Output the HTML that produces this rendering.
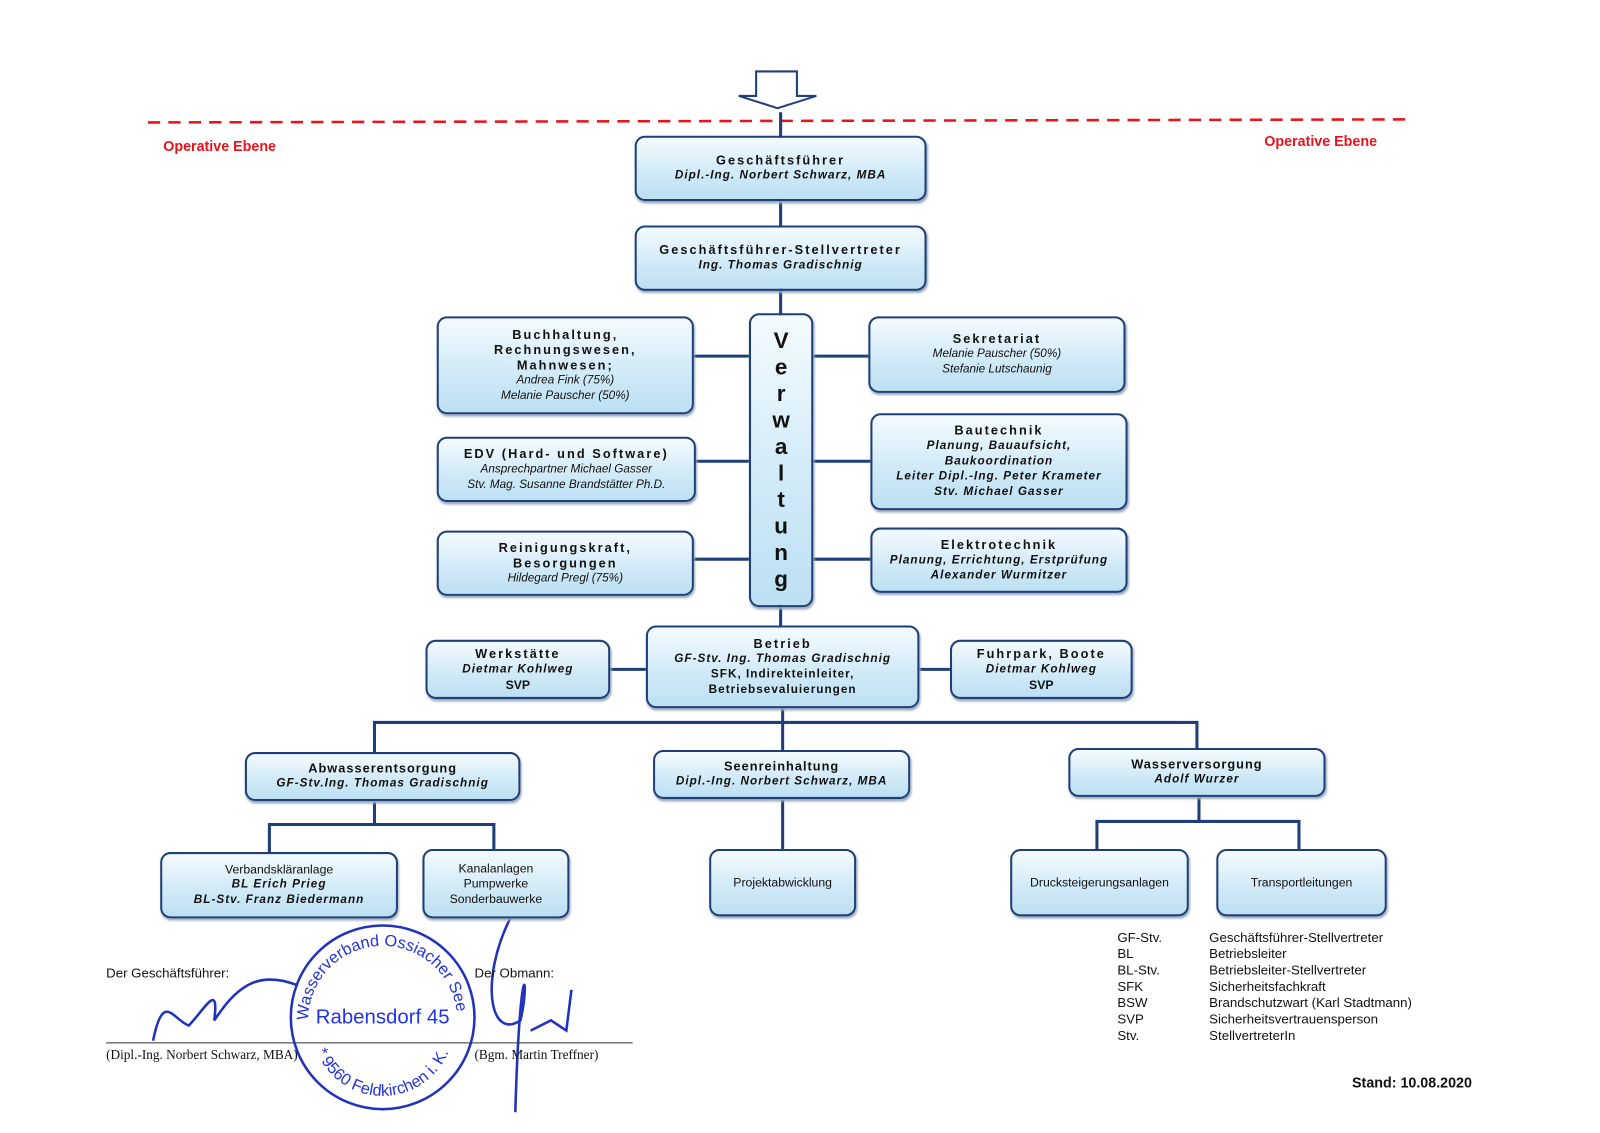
<!DOCTYPE html>
<html><head><meta charset="utf-8"><style>
body{margin:0;width:1600px;height:1132px;background:#fff;position:relative;overflow:hidden;font-family:"Liberation Sans",sans-serif;}
#w{position:absolute;left:0;top:0;width:1568px;height:1110px;transform:scale(1.0204);transform-origin:0 0;}
.b{position:absolute;box-sizing:border-box;border:2.5px solid #1f3f7a;border-radius:10px;background:linear-gradient(#f4fbff,#cfe9f7 60%,#bde0f3);text-align:center;color:#111;font-size:12px;line-height:15px;display:flex;flex-direction:column;justify-content:center;box-shadow:1px 2px 2px #9ab;}
.t{font-weight:bold;letter-spacing:2px;font-size:12.5px}
.i{font-style:italic;letter-spacing:1px;font-weight:bold;font-size:11.5px}
.n{font-style:italic;font-size:11.5px}
.a{position:absolute;font-size:13px;color:#111}
</style></head><body><div id="w">
<svg width="1568" height="1110" style="position:absolute;left:0;top:0">
<line x1="145" y1="120" x2="1380" y2="117" stroke="#e8131b" stroke-width="2.5" stroke-dasharray="12,8"/>
<polygon points="741,70 781,70 781,94 800,94 762,106 724,94 741,94" fill="#fff" stroke="#1f3f7a" stroke-width="2"/>
<g stroke="#1f3f7a" stroke-width="3" fill="none">
<line x1="765" y1="110" x2="765" y2="613"/>
<line x1="680" y1="349" x2="734" y2="349"/><line x1="682" y1="452" x2="734" y2="452"/><line x1="680" y1="548" x2="734" y2="548"/>
<line x1="797" y1="349" x2="851" y2="349"/><line x1="797" y1="452" x2="853" y2="452"/><line x1="797" y1="548" x2="853" y2="548"/>
<line x1="598" y1="656" x2="633" y2="656"/><line x1="901" y1="656" x2="931" y2="656"/>
<line x1="767" y1="694" x2="767" y2="735"/>
<polyline points="367,737 367,708 1173,708 1173,733"/>
<line x1="367" y1="785" x2="367" y2="808"/><polyline points="264,835 264,808 484,808 484,832"/>
<line x1="767" y1="783" x2="767" y2="832"/>
<line x1="1175" y1="781" x2="1175" y2="805"/><polyline points="1075,832 1075,805 1273,805 1273,832"/>
<line x1="104" y1="1022" x2="620" y2="1022" stroke="#333" stroke-width="1"/>
</g>
<g fill="none" stroke="#2233bb" stroke-width="2.5">
<circle cx="375" cy="997" r="90"/>
<path d="M150,1020 C160,970 170,1000 185,1005 C200,990 215,960 210,1000 C230,970 250,950 290,965"/>
<path d="M500,900 C470,960 480,1020 510,1000 C520,960 510,920 505,1090"/>
<path d="M520,1010 L540,1000 L555,1010 L560,970"/>
</g>
<text x="375" y="1003" fill="#2233ee" font-size="20" text-anchor="middle" font-family="Liberation Sans">Rabensdorf 45</text>
<path id="arc" d="M302,1000 A73,73 0 0,1 448,1000" fill="none"/>
<text fill="#2233dd" font-size="16" font-family="Liberation Sans"><textPath href="#arc">Wasserverband Ossiacher See</textPath></text>
<path id="arc2" d="M310,1030 A70,70 0 0,0 440,1030" fill="none"/>
<text fill="#2233dd" font-size="16" font-family="Liberation Sans"><textPath href="#arc2">* 9560 Feldkirchen i. K. *</textPath></text>
</svg>
<div class="a" style="left:160px;top:135px;color:#e8131b;font-weight:bold;font-size:14px">Operative Ebene</div>
<div class="a" style="left:1239px;top:130px;color:#e8131b;font-weight:bold;font-size:14px">Operative Ebene</div>

<div class="b" style="left:622px;top:133px;width:286px;height:64px"><div class="t">Geschäftsführer</div><div class="i">Dipl.-Ing. Norbert Schwarz, MBA</div></div>
<div class="b" style="left:622px;top:221px;width:286px;height:64px"><div class="t">Geschäftsführer-Stellvertreter</div><div class="i">Ing. Thomas Gradischnig</div></div>
<div class="b" style="left:734px;top:307px;width:63px;height:288px;font-weight:bold;font-size:22px;line-height:26px">V<br>e<br>r<br>w<br>a<br>l<br>t<br>u<br>n<br>g</div>
<div class="b" style="left:428px;top:310px;width:252px;height:96px"><div class="t">Buchhaltung,<br>Rechnungswesen,<br>Mahnwesen;</div><div class="n">Andrea Fink (75%)<br>Melanie Pauscher (50%)</div></div>
<div class="b" style="left:428px;top:428px;width:254px;height:64px"><div class="t">EDV (Hard- und Software)</div><div class="n">Ansprechpartner Michael Gasser<br>Stv. Mag. Susanne Brandstätter Ph.D.</div></div>
<div class="b" style="left:428px;top:520px;width:252px;height:64px"><div class="t">Reinigungskraft,<br>Besorgungen</div><div class="n">Hildegard Pregl (75%)</div></div>
<div class="b" style="left:851px;top:310px;width:252px;height:75px"><div class="t">Sekretariat</div><div class="n">Melanie Pauscher (50%)<br>Stefanie Lutschaunig</div></div>
<div class="b" style="left:853px;top:405px;width:252px;height:95px"><div class="t">Bautechnik</div><div class="i">Planung, Bauaufsicht,<br>Baukoordination<br>Leiter Dipl.-Ing. Peter Krameter<br>Stv. Michael Gasser</div></div>
<div class="b" style="left:853px;top:517px;width:252px;height:64px"><div class="t">Elektrotechnik</div><div class="i">Planung, Errichtung, Erstprüfung<br>Alexander Wurmitzer</div></div>
<div class="b" style="left:633px;top:613px;width:268px;height:81px"><div class="t">Betrieb</div><div class="i">GF-Stv. Ing. Thomas Gradischnig</div><div style="letter-spacing:1px;font-weight:bold;font-size:11.5px">SFK, Indirekteinleiter,<br>Betriebsevaluierungen</div></div>
<div class="b" style="left:417px;top:627px;width:181px;height:58px"><div class="t">Werkstätte</div><div class="i">Dietmar Kohlweg</div><div style="font-weight:bold">SVP</div></div>
<div class="b" style="left:931px;top:627px;width:179px;height:58px"><div class="t">Fuhrpark, Boote</div><div class="i">Dietmar Kohlweg</div><div style="font-weight:bold">SVP</div></div>
<div class="b" style="left:240px;top:737px;width:270px;height:48px"><div class="t" style="letter-spacing:1px">Abwasserentsorgung</div><div class="i">GF-Stv.Ing. Thomas Gradischnig</div></div>
<div class="b" style="left:640px;top:735px;width:252px;height:48px"><div class="t" style="letter-spacing:1px">Seenreinhaltung</div><div class="i">Dipl.-Ing. Norbert Schwarz, MBA</div></div>
<div class="b" style="left:1047px;top:733px;width:252px;height:48px"><div class="t" style="letter-spacing:1px">Wasserversorgung</div><div class="i">Adolf Wurzer</div></div>
<div class="b" style="left:157px;top:835px;width:233px;height:65px"><div>Verbandskläranlage</div><div class="i">BL Erich Prieg<br>BL-Stv. Franz Biedermann</div></div>
<div class="b" style="left:414px;top:832px;width:144px;height:68px"><div>Kanalanlagen<br>Pumpwerke<br>Sonderbauwerke</div></div>
<div class="b" style="left:695px;top:832px;width:144px;height:66px">Projektabwicklung</div>
<div class="b" style="left:990px;top:832px;width:175px;height:66px">Drucksteigerungsanlagen</div>
<div class="b" style="left:1192px;top:832px;width:167px;height:66px">Transportleitungen</div>

<div class="a" style="left:1095px;top:911px;line-height:16px">GF-Stv.<br>BL<br>BL-Stv.<br>SFK<br>BSW<br>SVP<br>Stv.</div>
<div class="a" style="left:1185px;top:911px;line-height:16px">Geschäftsführer-Stellvertreter<br>Betriebsleiter<br>Betriebsleiter-Stellvertreter<br>Sicherheitsfachkraft<br>Brandschutzwart (Karl Stadtmann)<br>Sicherheitsvertrauensperson<br>StellvertreterIn</div>
<div class="a" style="left:1325px;top:1053px;font-weight:bold;font-size:14px">Stand: 10.08.2020</div>
<div class="a" style="left:104px;top:946px">Der Geschäftsführer:</div>
<div class="a" style="left:465px;top:946px">Der Obmann:</div>
<div class="a" style="left:104px;top:1026px;font-family:'Liberation Serif',serif">(Dipl.-Ing. Norbert Schwarz, MBA)</div>
<div class="a" style="left:465px;top:1026px;font-family:'Liberation Serif',serif">(Bgm. Martin Treffner)</div>
</div></body></html>
